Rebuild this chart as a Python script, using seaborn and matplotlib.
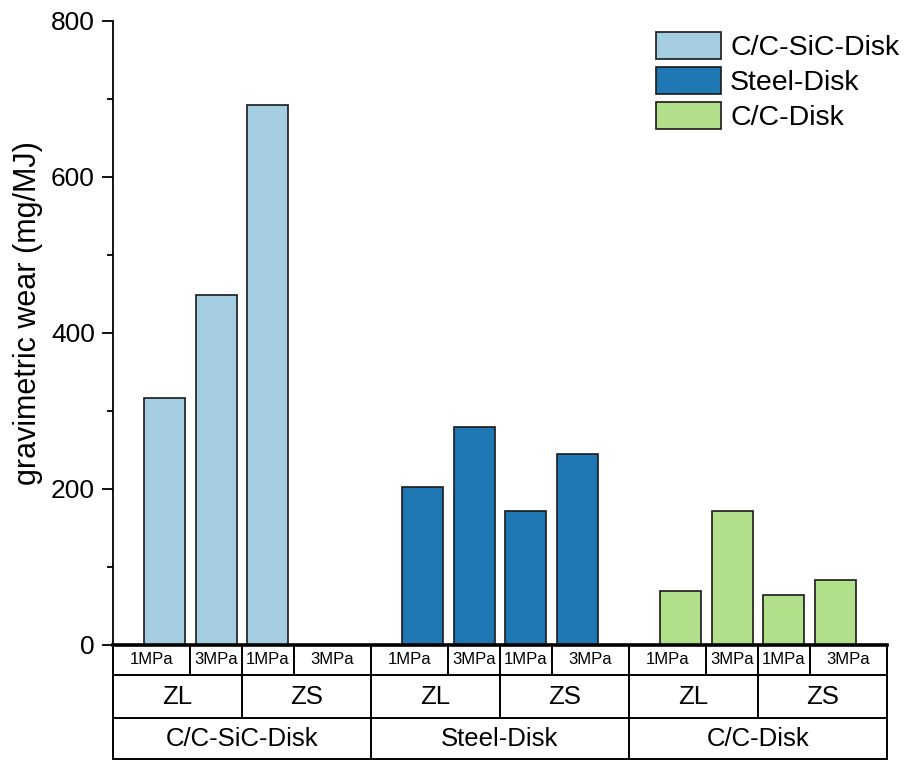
import matplotlib
matplotlib.use("Agg")
import matplotlib.pyplot as plt
import matplotlib.transforms as mtransforms
from matplotlib.ticker import MultipleLocator
import numpy as np
import pandas as pd
import seaborn as sns

# ---- data -------------------------------------------------------------
disks = ["C/C-SiC-Disk", "Steel-Disk", "C/C-Disk"]
modes = ["ZL", "ZS"]
pressures = ["1MPa", "3MPa"]

# gravimetric wear (mg/MJ); order per disk: ZL-1MPa, ZL-3MPa, ZS-1MPa, ZS-3MPa
wear_cc_sic = [317, 449, 692, None]
wear_steel = [202, 280, 172, 245]
wear_cc = [69, 172, 64, 83]

colors = sns.color_palette("Paired", 3)

# ---- table ------------------------------------------------------------
rows = []
for d, (disk, vals) in enumerate(zip(disks, [wear_cc_sic, wear_steel, wear_cc])):
    k = 0
    for mode in modes:
        for p in pressures:
            rows.append({"disk": disk, "mode": mode, "pressure": p,
                         "slot": d * 5 + k, "wear": vals[k]})
            k += 1
df = pd.DataFrame(rows)
df_bars = df.dropna(subset=["wear"]).copy()
df_bars["wear"] = df_bars["wear"].astype(float)

# ---- figure -----------------------------------------------------------
sns.set_theme(style="ticks")
plt.rcParams["font.family"] = ["Liberation Sans", "DejaVu Sans"]
plt.rcParams["text.color"] = "black"
plt.rcParams["axes.labelcolor"] = "black"
plt.rcParams["xtick.color"] = "black"
plt.rcParams["ytick.color"] = "black"

fig = plt.figure(figsize=(9.08, 7.61), dpi=100)
ax = fig.add_axes([113 / 908, 1 - 645 / 761, 774 / 908, 624 / 761])

sns.barplot(data=df_bars, x="slot", y="wear", hue="disk", hue_order=disks,
            palette=colors, saturation=1, native_scale=True, dodge=False,
            width=0.8, edgecolor="#1a1a1a", linewidth=1.2, errorbar=None,
            ax=ax)

ax.set_xlim(-1, 14)
ax.set_ylim(0, 800)
ax.yaxis.set_major_locator(MultipleLocator(200))
ax.yaxis.set_minor_locator(MultipleLocator(100))
ax.tick_params(axis="y", which="major", length=8, width=1.3, labelsize=19,
               colors="black", pad=5)
ax.tick_params(axis="y", which="minor", length=4.5, width=1.3, left=True,
               colors="black")
ax.tick_params(axis="x", which="both", bottom=False, labelbottom=False)
ax.set_xlabel("")
ax.set_ylabel("gravimetric wear (mg/MJ)", fontsize=22, color="black")
ax.yaxis.set_label_coords(-0.09, 0.532)

sns.despine(ax=ax)
ax.spines["left"].set_linewidth(1.3)
ax.spines["bottom"].set_linewidth(2.6)
for s in ("left", "bottom"):
    ax.spines[s].set_color("black")

# legend
handles, labels = ax.get_legend_handles_labels()
leg = ax.legend(handles, labels, loc="upper left",
                bbox_to_anchor=((656 - 113) / 774, (645 - 32) / 624),
                frameon=False, fontsize=20.5, handlelength=2.3,
                handleheight=1.1, labelspacing=0.2, handletextpad=0.3,
                borderpad=0, borderaxespad=0)
for h in leg.legend_handles:
    h.set_edgecolor("#1a1a1a")
    h.set_linewidth(1.2)
for t in leg.get_texts():
    t.set_color("black")

# ---- category table under the x axis -----------------------------------
trans = mtransforms.blended_transform_factory(ax.transData, ax.transAxes)
y0, y1, y2, y3 = 0.0, -(675 - 645) / 624, -(718 - 645) / 624, -(759 - 645) / 624
lw = 1.4
line_kw = dict(color="black", lw=lw, transform=trans, clip_on=False)

for yy in (y1, y2, y3):
    ax.plot([-1, 14], [yy, yy], **line_kw)

row1_edges = []
for d in range(3):
    base = d * 5
    row1_edges += [base - 1, base + 0.5, base + 1.5, base + 2.5]
row1_edges.append(14)
for xe in row1_edges:
    ax.plot([xe, xe], [y0, y1], **line_kw)

row2_edges = [-1, 1.5, 4, 6.5, 9, 11.5, 14]
for xe in row2_edges:
    ax.plot([xe, xe], [y1, y2], **line_kw)

row3_edges = [-1, 4, 9, 14]
for xe in row3_edges:
    ax.plot([xe, xe], [y2, y3], **line_kw)

for i in range(len(row1_edges) - 1):
    xc = (row1_edges[i] + row1_edges[i + 1]) / 2
    ax.text(xc, (y0 + y1) / 2, pressures[i % 2], transform=trans,
            ha="center", va="center", fontsize=12, clip_on=False)
for i in range(len(row2_edges) - 1):
    xc = (row2_edges[i] + row2_edges[i + 1]) / 2
    ax.text(xc, (y1 + y2) / 2, modes[i % 2], transform=trans,
            ha="center", va="center", fontsize=18.5, clip_on=False)
for i in range(len(row3_edges) - 1):
    xc = (row3_edges[i] + row3_edges[i + 1]) / 2
    ax.text(xc, (y2 + y3) / 2, disks[i], transform=trans,
            ha="center", va="center", fontsize=18.5, clip_on=False)

fig.savefig("out.png", dpi=100)
